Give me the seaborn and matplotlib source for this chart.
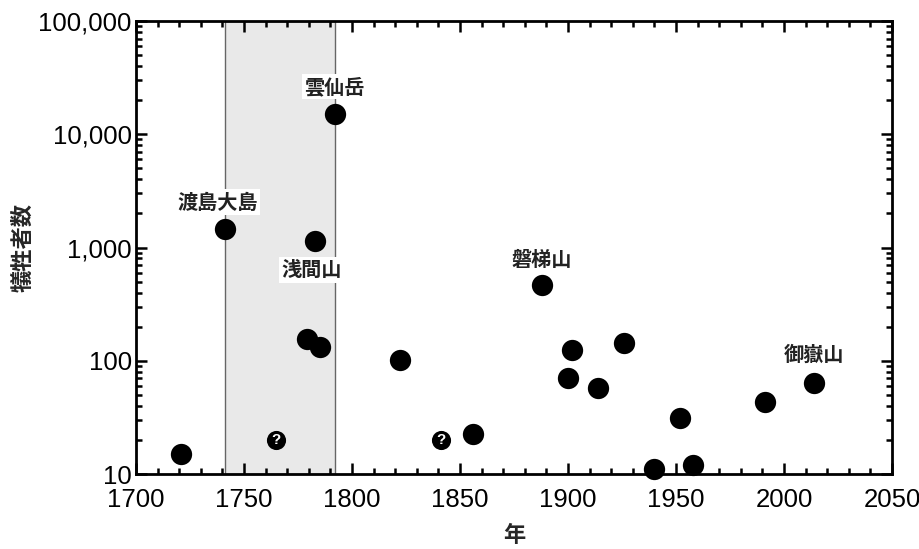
import pandas as pd
import matplotlib
matplotlib.use("Agg")
import matplotlib.pyplot as plt
import matplotlib.ticker as mticker
import seaborn as sns

# --- data ---
years = [1721, 1741, 1779, 1783, 1785, 1792, 1822, 1856, 1888, 1900,
         1902, 1914, 1926, 1940, 1952, 1958, 1991, 2014]
deaths = [15, 1467, 155, 1151, 132, 15000, 102, 22.6, 467, 70,
          124, 57.5, 143, 11, 31, 12, 43, 63]

unsure_years = [1765, 1841]
unsure_deaths = [20, 20]

label_names = ["渡島大島", "雲仙岳", "浅間山", "磐梯山", "御嶽山"]
label_years = [1741, 1792, 1783, 1888, 2014]
label_deaths = [1467, 15000, 1151, 467, 63]
label_offsets = [(-5, 19), (0, 20), (-3, -21), (0, 18), (0, 21)]

span_start, span_end = 1741, 1792

df = pd.DataFrame({"year": years, "deaths": deaths})
df_q = pd.DataFrame({"year": unsure_years, "deaths": unsure_deaths})

sns.set_style("ticks")
plt.rcParams['font.family'] = ['Liberation Sans', 'Noto Sans CJK JP']

fig = plt.figure(figsize=(9.19, 5.49), dpi=100)
ax = fig.add_axes([0.148, 0.1366, 0.8226, 0.8251])

ax.axvspan(span_start, span_end, facecolor="#e9e9e9", edgecolor="#666666",
           linewidth=1.0, zorder=0)

sns.scatterplot(data=df, x="year", y="deaths", ax=ax, s=235, color="black",
                edgecolor="black", linewidth=0, zorder=3, clip_on=False)
sns.scatterplot(data=df_q, x="year", y="deaths", ax=ax, s=190, color="black",
                edgecolor="black", linewidth=0, zorder=3)
for x, y in zip(unsure_years, unsure_deaths):
    ax.text(x, y, "?", color="white", fontsize=11, fontweight="bold",
            ha="center", va="center", zorder=4)

for name, x, y, (dx, dy) in zip(label_names, label_years, label_deaths, label_offsets):
    ax.annotate(name, (x, y), xytext=(dx, dy), textcoords="offset points",
                ha="center", va="center", fontsize=14.5, fontweight="bold",
                family="Noto Sans CJK JP", color="#222222", zorder=5,
                bbox=dict(boxstyle="square,pad=0.12", fc="white", ec="none"))

ax.set_yscale("log")
ax.set_xlim(1700, 2050)
ax.set_ylim(10, 100000)
ax.xaxis.set_major_locator(mticker.MultipleLocator(50))
ax.xaxis.set_minor_locator(mticker.MultipleLocator(10))
ax.yaxis.set_major_locator(mticker.LogLocator(base=10))
ax.yaxis.set_minor_locator(mticker.LogLocator(base=10, subs=range(2, 10)))
ax.yaxis.set_minor_formatter(mticker.NullFormatter())
ax.yaxis.set_major_formatter(mticker.FuncFormatter(lambda v, p: f"{int(round(v)):,}"))

ax.tick_params(which="both", direction="in", top=True, right=True, width=1.8,
               labelsize=18.5, colors="black")
ax.tick_params(axis="y", pad=3)
ax.tick_params(axis="x", pad=10)
ax.tick_params(which="major", length=8)
ax.tick_params(which="minor", length=4.5)
for sp in ax.spines.values():
    sp.set_linewidth(2)
    sp.set_color("black")

ax.set_xlabel("年", fontsize=16, fontweight="bold", family="Noto Sans CJK JP", labelpad=9)
ax.set_ylabel("犠牲者数", fontsize=16, fontweight="bold", family="Noto Sans CJK JP", labelpad=3)

fig.savefig("out.png", dpi=100)
